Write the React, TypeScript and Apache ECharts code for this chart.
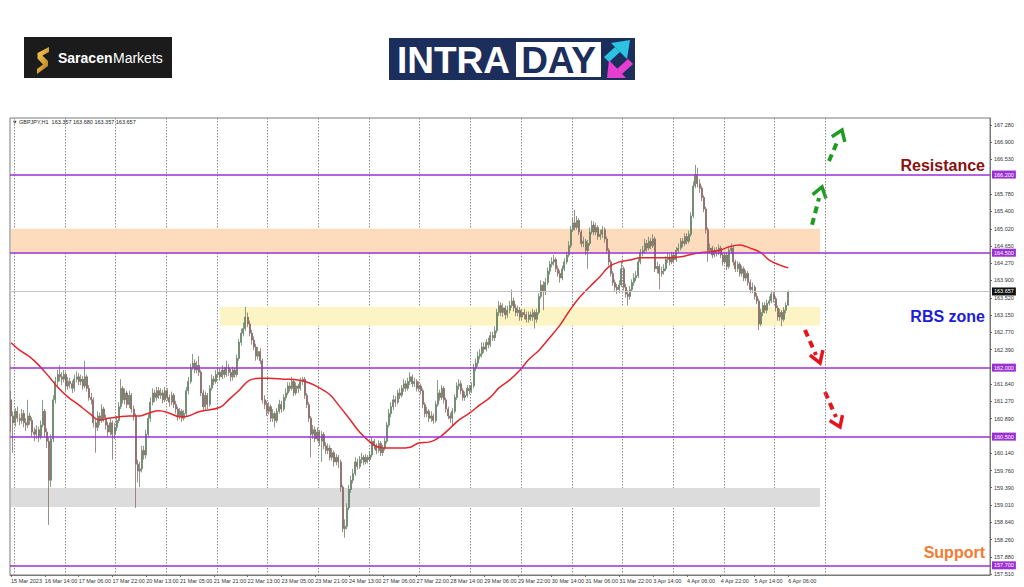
import { useEffect, useRef } from "react";
import * as echarts from "echarts";

// ---------- DATA ----------
const xTickLabels = [
  "15 Mar 2023", "16 Mar 14:00", "17 Mar 06:00", "17 Mar 22:00", "20 Mar 13:00", "21 Mar 05:00",
  "21 Mar 21:00", "22 Mar 13:00", "23 Mar 05:00", "23 Mar 21:00", "24 Mar 13:00", "27 Mar 06:00",
  "27 Mar 22:00", "28 Mar 14:00", "29 Mar 06:00", "29 Mar 22:00", "30 Mar 14:00", "31 Mar 06:00",
  "31 Mar 22:00", "3 Apr 14:00", "4 Apr 06:00", "4 Apr 22:00", "5 Apr 14:00", "6 Apr 06:00",
];

const firstOpen = 161.30;

const closes = [
  160.95,160.80,161.05,160.90,160.85,161.00,160.80,160.75,160.95,160.85,
  160.60,160.55,160.65,160.50,160.75,161.05,160.60,160.40,159.55,160.45,
  161.30,161.70,161.85,161.80,161.75,161.85,161.60,161.70,161.65,161.55,
  161.75,161.80,161.70,161.75,161.60,161.80,161.55,161.35,161.30,160.80,
  160.70,160.95,160.85,161.10,160.90,160.75,160.60,160.80,160.55,160.70,
  160.85,161.15,161.55,161.30,161.45,161.20,161.40,161.10,160.95,159.90,
  159.75,159.80,160.20,160.10,160.55,160.90,161.25,161.45,161.35,161.50,
  161.40,161.45,161.30,161.50,161.35,161.25,161.40,161.20,161.10,160.95,
  161.05,160.90,161.00,161.50,161.70,162.00,162.10,161.95,162.05,161.90,
  161.45,161.15,161.40,161.20,161.55,161.75,161.70,161.85,161.90,161.80,
  161.95,161.85,162.00,161.90,161.80,161.95,161.85,162.20,162.55,162.75,
  162.85,163.10,162.95,162.75,162.60,162.45,162.25,162.35,162.15,161.30,
  161.20,161.05,161.15,160.90,161.00,160.85,161.05,161.20,161.10,161.35,
  161.45,161.60,161.55,161.70,161.45,161.60,161.55,161.70,161.75,161.40,
  161.20,160.90,160.55,160.65,160.45,160.60,160.40,160.55,160.30,160.20,
  160.25,160.05,160.15,159.95,160.05,159.95,159.40,158.50,158.55,158.95,
  159.35,159.55,159.70,159.95,159.85,160.00,160.05,159.95,160.05,160.00,
  160.10,160.40,160.30,160.20,160.35,160.15,160.25,160.40,160.75,161.00,
  161.15,161.30,161.25,161.45,161.40,161.55,161.65,161.55,161.70,161.80,
  161.65,161.70,161.55,161.60,161.50,161.20,161.00,161.05,160.90,160.95,
  160.85,161.20,161.45,161.35,161.55,161.30,161.10,160.95,160.90,161.05,
  161.35,161.60,161.65,161.50,161.35,161.40,161.55,161.50,161.60,162.00,
  162.10,162.25,162.30,162.45,162.40,162.55,162.50,162.70,162.65,162.80,
  163.20,163.35,163.20,163.30,163.15,163.25,163.35,163.45,163.30,163.20,
  163.25,163.10,163.20,163.15,163.05,163.15,163.10,163.20,163.05,163.20,
  163.55,163.80,163.65,163.85,164.10,164.25,164.30,164.35,164.15,164.05,
  163.95,164.15,164.30,164.45,164.65,165.00,165.15,165.05,165.20,164.95,
  164.70,164.75,164.55,164.70,164.95,165.10,164.95,165.05,164.85,164.90,
  165.00,164.80,164.55,164.30,164.05,163.85,163.75,163.70,163.80,164.15,
  163.75,163.60,163.55,163.70,163.85,163.95,164.00,164.30,164.50,164.55,
  164.70,164.60,164.75,164.65,164.80,164.15,164.20,164.05,164.10,164.15,
  164.35,164.40,164.30,164.45,164.35,164.55,164.60,164.75,164.70,164.85,
  164.75,164.90,165.30,165.95,166.20,166.00,165.90,165.70,165.45,165.00,
  164.55,164.60,164.45,164.55,164.50,164.60,164.45,164.30,164.45,164.20,
  164.55,164.60,164.30,164.15,164.25,164.05,164.15,163.95,164.05,163.85,
  163.70,163.75,163.55,163.45,162.95,163.20,163.35,163.25,163.40,163.45,
  163.60,163.50,163.30,163.10,163.20,163.05,163.25,163.357,163.657,
];

const highs = [
  161.50,161.05,161.12,161.15,161.00,161.10,161.08,160.90,161.30,161.02,
  160.92,160.70,160.75,160.72,160.85,161.30,161.10,160.68,160.48,160.55,
  161.40,161.80,161.95,162.05,161.90,161.95,161.90,161.80,161.78,161.72,
  161.85,161.92,161.88,161.85,161.82,162.15,161.85,161.62,161.45,161.35,
  160.90,161.05,161.02,161.20,161.15,160.98,160.82,160.90,160.85,160.80,
  160.95,161.25,161.75,161.60,161.55,161.50,161.50,161.45,161.18,161.00,
  160.00,159.95,160.30,160.30,160.65,161.00,161.35,161.55,161.52,161.58,
  161.58,161.55,161.52,161.58,161.55,161.42,161.48,161.45,161.28,161.15,
  161.12,161.10,161.08,161.58,161.80,162.08,162.30,162.18,162.15,162.25,
  161.95,161.52,161.48,161.45,161.62,161.85,161.82,161.95,162.00,161.98,
  162.05,162.02,162.15,162.08,161.98,162.02,162.00,162.28,162.62,162.85,
  162.98,163.32,163.20,163.02,162.82,162.68,162.52,162.45,162.42,162.20,
  161.40,161.28,161.25,161.20,161.10,161.05,161.12,161.30,161.28,161.42,
  161.55,161.68,161.68,161.80,161.75,161.68,161.65,161.78,161.80,161.80,
  161.45,161.25,160.95,160.75,160.72,160.70,160.65,160.62,160.60,160.38,
  160.35,160.32,160.25,160.20,160.12,160.10,160.00,159.45,158.70,159.05,
  159.45,159.65,159.80,160.05,160.02,160.08,160.15,160.10,160.12,160.10,
  160.18,160.50,160.45,160.35,160.42,160.40,160.32,160.48,160.82,161.10,
  161.25,161.40,161.38,161.52,161.55,161.62,161.75,161.72,161.78,161.90,
  161.85,161.78,161.75,161.70,161.65,161.55,161.25,161.15,161.10,161.05,
  161.00,161.28,161.73,161.52,161.62,161.60,161.35,161.15,161.02,161.12,
  161.42,161.68,161.75,161.72,161.55,161.48,161.62,161.62,161.68,162.08,
  162.20,162.35,162.40,162.55,162.55,162.62,162.65,162.78,162.78,162.90,
  163.28,163.45,163.42,163.40,163.35,163.35,163.45,163.70,163.52,163.38,
  163.35,163.32,163.28,163.28,163.22,163.22,163.22,163.28,163.25,163.28,
  163.62,163.90,163.88,163.95,164.18,164.32,164.40,164.45,164.40,164.22,
  164.12,164.22,164.38,164.52,164.75,165.08,165.25,165.43,165.30,165.25,
  165.00,164.85,164.80,164.78,165.05,165.20,165.18,165.15,165.10,165.00,
  165.08,165.05,164.85,164.60,164.35,164.10,163.92,163.82,163.90,164.30,
  164.20,163.82,163.68,163.78,163.92,164.05,164.10,164.38,164.58,164.65,
  164.80,164.78,164.85,164.82,164.90,164.85,164.30,164.25,164.20,164.25,
  164.42,164.50,164.48,164.52,164.50,164.62,164.70,164.82,164.82,164.92,
  164.92,164.98,165.38,166.05,166.41,166.35,166.10,165.95,165.75,165.50,
  165.05,164.70,164.65,164.62,164.62,164.68,164.65,164.50,164.52,164.50,
  164.62,164.70,164.65,164.35,164.32,164.30,164.22,164.20,164.12,164.10,
  163.92,163.85,163.80,163.62,163.50,163.28,163.42,163.42,163.48,163.55,
  163.68,163.65,163.55,163.35,163.28,163.25,163.32,163.42,163.68,
];

const lows = [
  160.60,160.15,160.72,160.82,160.75,160.78,160.70,160.62,160.68,160.76,
  160.50,160.40,160.45,160.38,160.44,160.70,160.50,160.25,158.58,159.40,
  160.38,161.22,161.60,161.70,161.62,161.68,161.50,161.52,161.55,161.45,
  161.48,161.68,161.62,161.62,161.52,161.55,161.48,161.28,161.20,160.70,
  160.15,160.62,160.75,160.80,160.82,160.65,160.50,160.52,160.00,160.45,
  160.62,160.80,161.10,161.22,161.20,161.12,161.12,161.02,160.85,158.95,
  159.50,159.40,159.72,160.00,160.02,160.48,160.82,161.18,161.25,161.28,
  161.32,161.32,161.22,161.25,161.28,161.15,161.18,161.12,161.00,160.85,
  160.88,160.82,160.85,160.95,161.42,161.65,161.95,161.88,161.88,161.82,
  161.38,161.05,161.08,161.10,161.15,161.50,161.62,161.65,161.78,161.72,
  161.75,161.78,161.80,161.82,161.70,161.72,161.78,161.80,162.15,162.48,
  162.68,162.80,162.88,162.68,162.50,162.38,162.15,162.18,162.08,161.22,
  161.10,160.95,160.98,160.82,160.82,160.70,160.80,161.00,161.02,161.05,
  161.28,161.40,161.48,161.50,161.38,161.40,161.45,161.50,161.62,161.32,
  161.12,160.82,160.05,160.45,160.38,160.40,160.30,159.95,160.22,160.12,
  160.12,159.98,159.98,159.85,159.88,159.82,159.30,158.42,158.30,158.48,
  158.90,159.28,159.48,159.65,159.78,159.80,159.92,159.88,159.90,159.92,
  159.95,160.05,160.22,160.12,160.15,160.08,160.08,160.20,160.35,160.70,
  160.92,161.08,161.15,161.20,161.32,161.35,161.48,161.48,161.50,161.62,
  161.58,161.58,161.48,161.48,161.42,161.12,160.92,160.92,160.82,160.82,
  160.78,160.80,161.15,161.28,161.30,161.22,161.02,160.88,160.80,160.75,
  161.00,161.30,161.52,161.42,161.28,161.28,161.35,161.42,161.45,161.55,
  161.92,162.02,162.18,162.22,162.32,162.35,162.42,162.45,162.58,162.58,
  162.75,163.12,163.12,163.10,163.05,163.08,163.18,163.30,163.22,163.12,
  163.12,163.02,163.02,163.05,162.98,162.98,163.02,163.02,162.85,162.98,
  163.15,163.50,163.25,163.58,163.80,164.02,164.18,164.22,164.08,163.98,
  163.85,163.90,164.10,164.25,164.40,164.60,164.95,164.98,165.00,164.88,
  164.62,164.62,164.45,164.15,164.65,164.90,164.88,164.88,164.78,164.78,
  164.82,164.72,164.48,164.22,163.98,163.78,163.65,163.60,163.62,163.75,
  163.68,163.52,163.35,163.48,163.65,163.78,163.88,163.95,164.25,164.42,
  164.48,164.52,164.55,164.58,164.60,164.08,164.05,163.70,163.98,164.02,
  164.10,164.28,164.22,164.25,164.28,164.30,164.48,164.55,164.62,164.65,
  164.68,164.70,164.85,165.25,165.90,165.92,165.80,165.62,165.38,164.92,
  164.30,164.48,164.38,164.40,164.42,164.45,164.38,164.22,164.25,164.12,
  164.15,164.48,164.22,164.08,164.08,163.98,163.98,163.88,163.88,163.78,
  163.62,163.62,163.48,163.38,162.82,162.90,163.12,163.18,163.18,163.35,
  163.40,163.42,163.22,163.02,163.02,162.90,163.00,163.18,163.357,
];

// moving average read at sampled bars
const maIndex = [
  0,4,9,13,18,22,27,32,37,42,46,51,56,61,65,70,75,80,84,89,
  99,103,108,113,118,122,129,136,141,146,151,155,160,165,170,174,179,184,189,193,
  198,203,208,212,217,222,227,231,236,241,245,250,255,260,264,269,274,279,283,288,
  293,298,302,307,312,317,321,326,331,336,340,345,350,355,359,364,368,
];
const maValues = [
  162.54,162.38,162.23,162.06,161.80,161.58,161.36,161.19,161.01,160.86,
  160.90,160.93,160.95,160.95,161.01,161.06,161.01,160.93,160.95,161.04,
  161.14,161.30,161.51,161.73,161.77,161.77,161.75,161.73,161.67,161.56,
  161.41,161.19,160.90,160.60,160.38,160.27,160.25,160.25,160.27,160.36,
  160.38,160.49,160.69,160.86,161.01,161.19,161.36,161.56,161.73,161.95,
  162.17,162.38,162.65,162.93,163.21,163.52,163.76,163.99,164.19,164.30,
  164.34,164.39,164.39,164.39,164.39,164.41,164.45,164.50,164.52,164.56,
  164.63,164.67,164.60,164.50,164.34,164.23,164.17,
];

const yTicks = [
  157.51, 157.88, 158.26, 158.64, 159.01, 159.39, 159.76, 160.14, 160.89, 161.27, 161.64,
  162.39, 162.77, 163.15, 163.52, 163.90, 164.27, 164.65, 165.02, 165.40, 165.78, 166.53,
  166.90, 167.28,
];

const levelLines = [166.2, 164.5, 162.0, 160.5, 157.7];
const currentPrice = 163.657;
const headerText = "▼ GBPJPY,H1  163.357 163.680 163.357 163.657";

// zones: [startBar, endBar, top, bottom]
const orangeZone = [0, 383, 165.02, 164.5];
const yellowZone = [99, 383, 163.32, 162.91];
const grayZone = [0, 383, 159.38, 158.97];

const totalSlots = 464;
const labelEvery = 16;
const gridEvery = 24;

// ---------- COMPONENT ----------
export default function App() {
  const ref = useRef<HTMLDivElement>(null);

  useEffect(() => {
    if (!ref.current) return;
    const chart = echarts.init(ref.current, null, { renderer: "svg" });

    const categories = Array.from({ length: totalSlots }, (_, i) => String(i));
    const candleData = closes.map((c, i) => [
      i === 0 ? firstOpen : closes[i - 1],
      c,
      lows[i],
      highs[i],
    ]);
    const maData = maIndex.map((idx, k) => [idx, maValues[k]]);
    const lastLabelIdx = (xTickLabels.length - 1) * labelEvery;
    const showLabel = (i: number) => i % labelEvery === 0 && i <= lastLabelIdx;

    const zoneArea = (z: number[], color: string) => [
      { xAxis: z[0], yAxis: z[2], itemStyle: { color } },
      { xAxis: z[1], yAxis: z[3] },
    ];

    const font = "Liberation Sans";
    const badge = (bg: string, value: number) => ({
      show: true,
      position: "end",
      distance: 2,
      formatter: () => value.toFixed(3),
      backgroundColor: bg,
      color: "#fff",
      fontSize: 5.5,
      fontFamily: font,
      padding: [1, 2, 1, 2],
    });

    const txt = (x: number, y: number, text: string, extra: any) => ({
      type: "text",
      x,
      y,
      silent: true,
      style: { text, fontFamily: font, ...extra },
    });

    const dashed = (pts: number[][], color: string) => ({
      type: "polyline",
      silent: true,
      shape: { points: pts },
      style: { stroke: color, lineWidth: 4, lineDash: [7, 5], fill: null },
    });
    const chevron = (pts: number[][], color: string) => ({
      type: "polyline",
      silent: true,
      shape: { points: pts },
      style: { stroke: color, lineWidth: 3.5, fill: null, lineJoin: "miter" },
    });

    const green = "#1f9a22";
    const red = "#e5141c";
    const navy = "#1c2e5c";
    const gold = {
      type: "linear",
      x: 0, y: 0, x2: 1, y2: 1,
      colorStops: [
        { offset: 0, color: "#f6cf62" },
        { offset: 0.5, color: "#d9a437" },
        { offset: 1, color: "#a8761f" },
      ],
    };

    chart.setOption({
      animation: false,
      backgroundColor: "#ffffff",
      grid: {
        left: 10,
        top: 118,
        right: 34,
        bottom: 12,
        show: true,
        borderColor: "#7a7a7a",
        borderWidth: 1,
      },
      xAxis: {
        type: "category",
        data: categories,
        boundaryGap: true,
        axisLine: { show: true, lineStyle: { color: "#7a7a7a" } },
        axisTick: {
          show: true,
          alignWithLabel: true,
          interval: (i: number) => showLabel(i),
          length: 2,
          lineStyle: { color: "#666" },
        },
        axisLabel: {
          interval: (i: number) => showLabel(i),
          formatter: (v: string) => {
            const i = Number(v);
            return showLabel(i) ? xTickLabels[i / labelEvery] : "";
          },
          align: "left",
          margin: 3,
          fontSize: 5.5,
          color: "#333",
          fontFamily: font,
        },
        splitLine: {
          show: true,
          interval: (i: number) => i >= 2 && (i - 2) % gridEvery === 0 && i <= 386,
          lineStyle: { color: "#8c8c8c", type: [1.5, 1.5], width: 1 },
        },
      },
      yAxis: {
        type: "value",
        position: "right",
        min: 157.49,
        max: 167.43,
        axisLine: { show: true, lineStyle: { color: "#7a7a7a" } },
        axisTick: { show: true, customValues: yTicks, length: 2, lineStyle: { color: "#666" } },
        axisLabel: {
          customValues: yTicks,
          formatter: (v: number) => v.toFixed(3),
          fontSize: 5.5,
          color: "#333",
          margin: 4,
          fontFamily: font,
        },
        splitLine: { show: false },
      },
      series: [
        {
          type: "line",
          data: [],
          z: 1,
          silent: true,
          markArea: {
            silent: true,
            data: [
              zoneArea(orangeZone, "#fcdcbd"),
              zoneArea(yellowZone, "#fdf4c6"),
              zoneArea(grayZone, "#dcdcdc"),
            ],
          },
        },
        {
          type: "candlestick",
          data: candleData,
          z: 3,
          barWidth: 1.5,
          silent: true,
          itemStyle: {
            color: "#2e7d2e",
            color0: "#8e1f1f",
            borderColor: "#6b836b",
            borderColor0: "#86706c",
            borderWidth: 0.8,
          },
        },
        {
          type: "line",
          data: maData,
          z: 4,
          smooth: 0.4,
          showSymbol: false,
          silent: true,
          lineStyle: { color: "#e3262b", width: 1.5 },
        },
        {
          type: "line",
          data: [],
          z: 5,
          silent: true,
          markLine: {
            silent: true,
            symbol: ["none", "none"],
            precision: 3,
            data: [
              {
                yAxis: currentPrice,
                lineStyle: { color: "#c4c4c4", width: 1, type: "solid" },
                label: badge("#111111", currentPrice),
              },
              ...levelLines.map((v) => ({
                yAxis: v,
                lineStyle: { color: "#9b30d3", width: 1.6, type: "solid" },
                label: badge("#9b30d3", v),
              })),
            ],
          },
        },
      ],
      graphic: [
        // Saracen Markets logo
        { type: "rect", silent: true, shape: { x: 24, y: 37, width: 148, height: 41 }, style: { fill: "#1b1b1b" } },
        {
          type: "polygon",
          silent: true,
          shape: { points: [[49, 47], [49, 52], [42.5, 55.5], [48, 61], [48, 66], [37, 74], [37, 69], [43, 64.5], [37.5, 58.5], [37.5, 53]] },
          style: { fill: gold },
        },
        txt(58, 58, "Saracen", { fill: "#ffffff", fontSize: 14, fontWeight: "bold", textVerticalAlign: "middle", verticalAlign: "middle" }),
        txt(113, 58, "Markets", { fill: "#ffffff", fontSize: 14, textVerticalAlign: "middle", verticalAlign: "middle" }),
        // INTRADAY logo
        { type: "rect", silent: true, shape: { x: 389, y: 38, width: 246, height: 42 }, style: { fill: navy } },
        txt(397, 60, "INTRA", { fill: "#ffffff", fontSize: 37, fontWeight: "bold", textVerticalAlign: "middle", verticalAlign: "middle" }),
        { type: "rect", silent: true, shape: { x: 516, y: 42, width: 85, height: 35 }, style: { fill: "#ffffff" } },
        txt(558.5, 60, "DAY", { fill: navy, fontSize: 37, fontWeight: "bold", textAlign: "center", align: "center", textVerticalAlign: "middle", verticalAlign: "middle" }),
        { type: "polygon", silent: true, shape: { points: [[604, 57], [609, 62], [620, 52], [615, 47]] }, style: { fill: "#2cc3e3" } },
        { type: "polygon", silent: true, shape: { points: [[611, 43], [630, 40], [627, 59]] }, style: { fill: "#2cc3e3" } },
        { type: "polygon", silent: true, shape: { points: [[633, 64], [628, 59], [617, 69], [622, 74]] }, style: { fill: "#e63fd0" } },
        { type: "polygon", silent: true, shape: { points: [[626, 78], [607, 78], [609, 60]] }, style: { fill: "#e63fd0" } },
        // chart header
        txt(12, 122, headerText, { fill: "#222", fontSize: 5.5, textVerticalAlign: "middle", verticalAlign: "middle" }),
        // annotations
        txt(985, 165, "Resistance", { fill: "#8b1010", fontSize: 16, fontWeight: "bold", textAlign: "right", align: "right", textVerticalAlign: "middle", verticalAlign: "middle" }),
        txt(985, 316, "RBS zone", { fill: "#1c1cd8", fontSize: 16, fontWeight: "bold", textAlign: "right", align: "right", textVerticalAlign: "middle", verticalAlign: "middle" }),
        txt(985, 552, "Support", { fill: "#f47b30", fontSize: 16, fontWeight: "bold", textAlign: "right", align: "right", textVerticalAlign: "middle", verticalAlign: "middle" }),
        // arrows
        dashed([[806, 248], [819, 198]], green),
        chevron([[812.6, 194.7], [822, 187], [826, 198.5]], green),
        dashed([[829, 161], [838, 140]], green),
        chevron([[831.8, 136.7], [842, 130], [844.8, 141.9]], green),
        dashed([[805, 330], [816, 355]], red),
        chevron([[809.9, 355.2], [820, 363], [822.9, 350.2]], red),
        dashed([[825, 392], [836, 417]], red),
        chevron([[829.7, 420.5], [840, 427], [842.5, 415.1]], red),
      ],
    });

    return () => chart.dispose();
  }, []);

  return (
    <div
      ref={ref}
      style={{ position: "fixed", left: 0, top: 0, width: 1024, height: 587, background: "#fff" }}
    />
  );
}
